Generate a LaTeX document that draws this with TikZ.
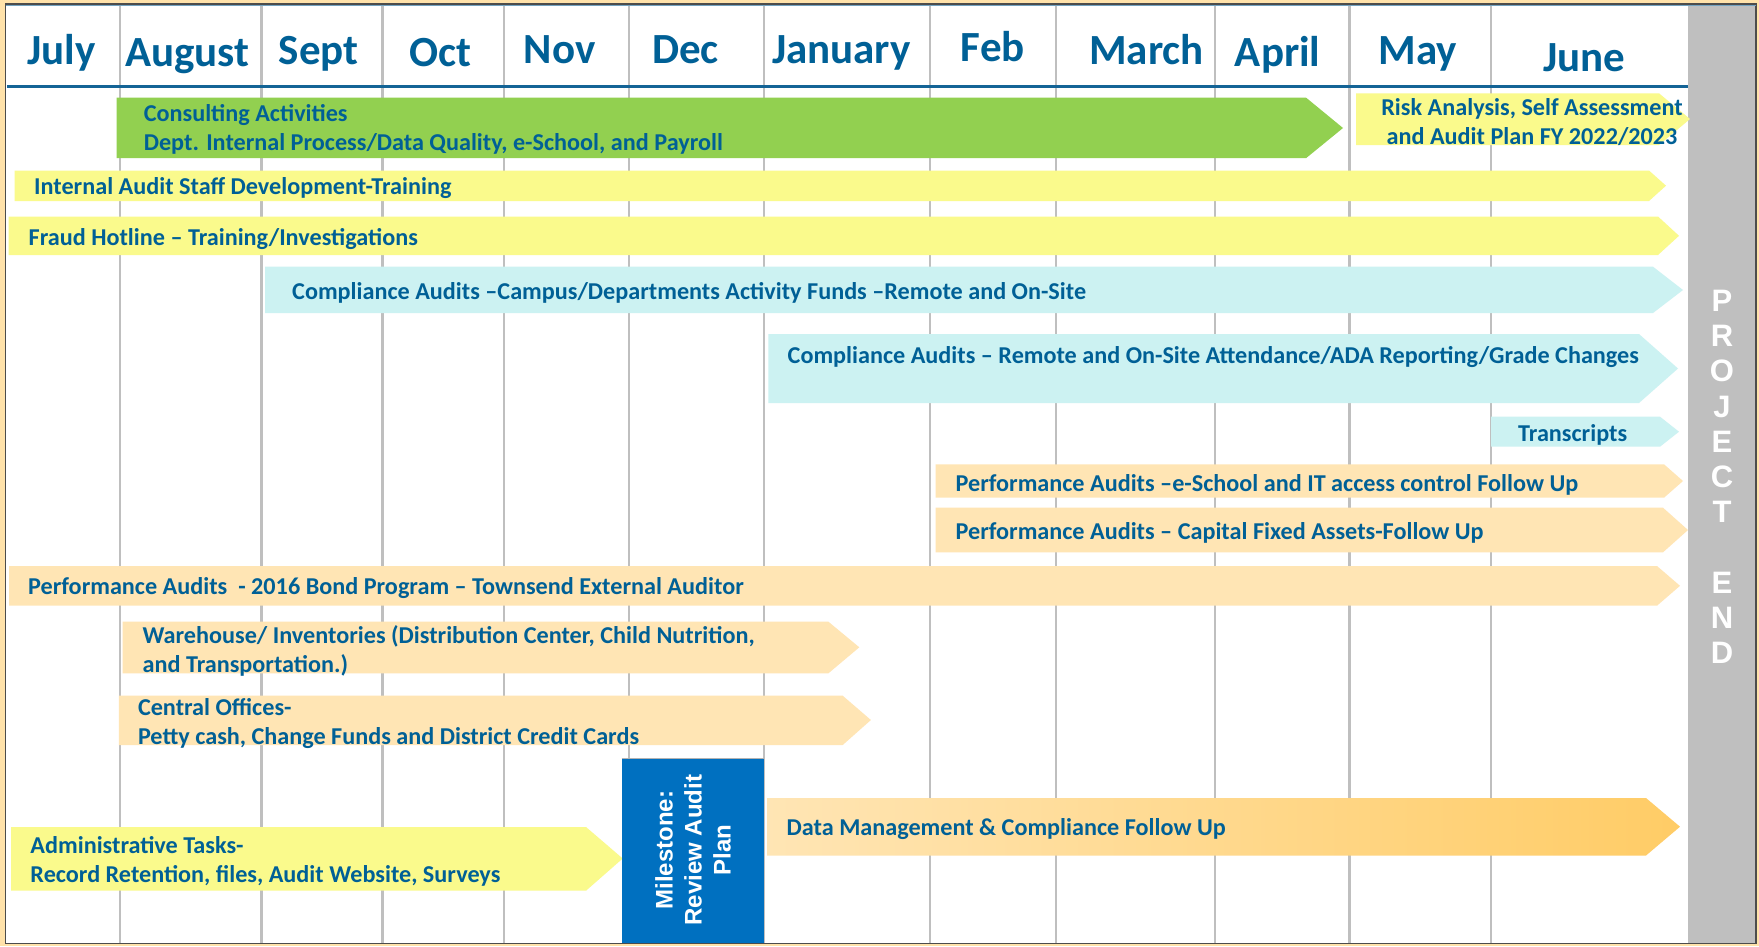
\documentclass[tikz,border=0pt]{standalone}
\usepackage{fontspec}
\setmainfont{Carlito}
\newfontfamily\arialfont{Liberation Sans}
\usepackage{xcolor}
\usepackage{tikz}

\definecolor{txtblue}{RGB}{0,96,150}
\definecolor{hdrblue}{RGB}{20,100,150}
\definecolor{barorange}{RGB}{255,229,180}
\definecolor{bardeep}{RGB}{255,204,102}
\definecolor{baryellow}{RGB}{250,250,140}
\definecolor{bargreen}{RGB}{146,208,80}
\definecolor{barcyan}{RGB}{204,242,242}
\definecolor{milestone}{RGB}{0,112,192}
\definecolor{endgray}{RGB}{191,191,191}
\definecolor{frametan}{RGB}{255,226,170}

\begin{document}
\begin{tikzpicture}[x=1pt,y=-1pt,
	month/.style={font=\bfseries\fontsize{43}{50}\selectfont,text=txtblue,inner sep=0pt,anchor=base},
	task/.style={font=\bfseries\fontsize{24.2}{29}\selectfont,text=txtblue,inner sep=0pt,anchor=west,align=left,yshift=-2.5pt},
	gridline/.style={draw=gray!50,line width=2.2pt}]
	\useasboundingbox (0,0) rectangle (1759,946);
	\fill[frametan] (0,0) rectangle (1759,946);
	\fill[white] (6,4) rectangle (1688,943);
	
	% month columns
	\foreach \gx in {120,261.4,382.5,503.7,629.3,764,930,1055.6,1215,1349.5,1490.9}{
		\draw[gridline] (\gx,5) -- (\gx,943);
	}
	\foreach \mx/\my/\mname in {61.7/51.6/July, 187.3/53.8/August, 318.6/51.6/Sept, 440.9/53.8/Oct, 559.8/50.5/Nov, 685.4/50.5/Dec, 841.4/50.5/January, 992.8/48.2/Feb, 1146.5/51.6/March, 1277.7/53.8/April, 1418/51.6/May, 1584/58.3/June}{
		\node[month] (\mname) at (\mx,\my+13) {\mname};
	}
	\draw[hdrblue,line width=3.5pt] (7,86.5) -- (1688,86.5);
	
	% project end bar
	\fill[endgray] (1688,5) rectangle (1755.5,943);
	\draw[black!70,line width=1.5pt] (5.5,4) rectangle (1756,943.5);
	\draw[hdrblue!60,line width=1.2pt] (5.5,5.5) -- (1756,5.5);
	
	% task bars
	\fill[bargreen] (116.7,97.6) -- (1306,97.6) -- (1343,128) -- (1306,158.2) -- (116.7,158.2) -- cycle;
	\fill[baryellow] (1356,93.3) -- (1659,93.3) -- (1690,119) -- (1659,145) -- (1356,145) -- cycle;
	\fill[baryellow] (14.6,170.5) -- (1649,170.5) -- (1666,185.7) -- (1649,201) -- (14.6,201) -- cycle;
	\fill[baryellow] (8.5,216.5) -- (1658,216.5) -- (1679,235.8) -- (1658,255) -- (8.5,255) -- cycle;
	\fill[barcyan] (265,266.7) -- (1653,266.7) -- (1683,290) -- (1653,313) -- (265,313) -- cycle;
	\fill[barcyan] (768.4,334) -- (1639,334) -- (1678,368.5) -- (1639,403) -- (768.4,403) -- cycle;
	\fill[barcyan] (1491,416.7) -- (1660,416.7) -- (1679,431.7) -- (1660,446.7) -- (1491,446.7) -- cycle;
	\fill[barorange] (935.6,464.3) -- (1664,464.3) -- (1683,481) -- (1664,497.7) -- (935.6,497.7) -- cycle;
	\fill[barorange] (935.6,507.7) -- (1663,507.7) -- (1688,530) -- (1663,552.3) -- (935.6,552.3) -- cycle;
	\fill[barorange] (9,566) -- (1657,566) -- (1680,585.8) -- (1657,605.7) -- (9,605.7) -- cycle;
	\fill[barorange] (122.5,621.7) -- (828.4,621.7) -- (859.3,647.3) -- (828.4,673.3) -- (122.5,673.3) -- cycle;
	\fill[barorange] (118.8,695.7) -- (842.7,695.7) -- (870.9,720) -- (842.7,745) -- (118.8,745) -- cycle;
	\fill[baryellow] (11.2,827) -- (586,827) -- (622.7,858.5) -- (586,890.7) -- (11.2,890.7) -- cycle;
	\shade[left color=barorange,right color=bardeep] (767,798) -- (1646,798) -- (1680,826.7) -- (1646,855.5) -- (767,855.5) -- cycle;
	
	% milestone
	\fill[milestone] (621.5,758.4) rectangle (764,943);
	\draw[gray!60,line width=1.5pt] (621.5,758.4) -- (764,758.4);
	\node[rotate=90,align=center,text=white,inner sep=0pt,font=\arialfont\bfseries\fontsize{24}{29}\selectfont] (mile) at (693,850) {Milestone:\\Review Audit\\Plan};
	
	% labels
	\node[task] (consult) at (143.6,127.3) {Consulting Activities\\Dept. Internal Process/Data Quality, e-School, and Payroll};
	\node[task,anchor=center,align=center] (risk) at (1532,119.5) {Risk Analysis, Self Assessment\\and Audit Plan FY 2022/2023};
	\node[task] (staff) at (34,186) {Internal Audit Staff Development-Training};
	\node[task] (fraud) at (28.5,236.5) {Fraud Hotline – Training/Investigations};
	\node[task] (campus) at (292,290) {Compliance Audits –Campus/Departments Activity Funds –Remote and On-Site};
	\node[task] (attend) at (787.5,354.5) {Compliance Audits – Remote and On-Site Attendance/ADA Reporting/Grade Changes};
	\node[task,anchor=center] (transcr) at (1572.7,432.5) {Transcripts};
	\node[task] (eschool) at (955.4,482.3) {Performance Audits –e-School and IT access control Follow Up};
	\node[task] (assets) at (955.4,530) {Performance Audits – Capital Fixed Assets-Follow Up};
	\node[task] (bond) at (28,585.6) {Performance Audits\ \ - 2016 Bond Program – Townsend External Auditor};
	\node[task] (warehouse) at (142.4,648.8) {Warehouse/ Inventories (Distribution Center, Child Nutrition,\\and Transportation.)};
	\node[task] (central) at (137.8,721.3) {Central Offices-\\Petty cash, Change Funds and District Credit Cards};
	\node[task] (admin) at (30.3,859.3) {Administrative Tasks-\\Record Retention, files, Audit Website, Surveys};
	\node[task] (datamgmt) at (786.5,827) {Data Management \& Compliance Follow Up};
	
	\node[align=center,text=white,inner sep=0pt,font=\arialfont\bfseries\fontsize{31}{35.2}\selectfont] (projend) at (1722,476.8) {P\\R\\O\\J\\E\\C\\T\\[35.2pt]E\\N\\D};
\end{tikzpicture}
\end{document}
